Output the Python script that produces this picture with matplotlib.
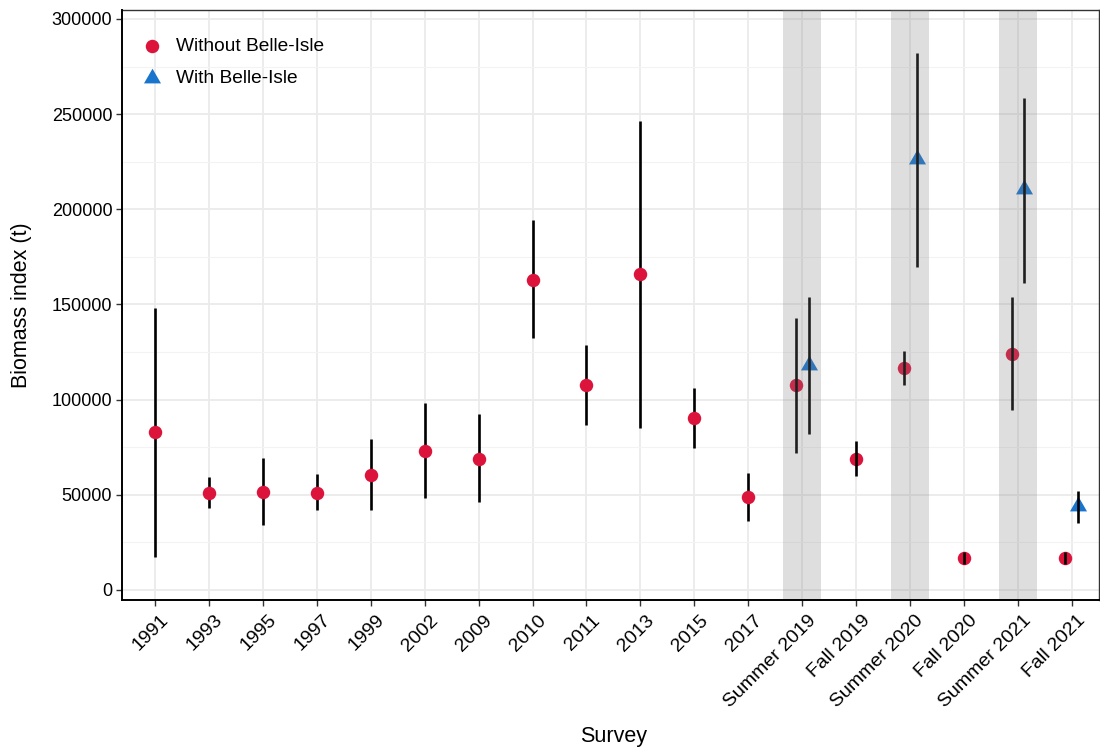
import matplotlib
matplotlib.use("Agg")
import matplotlib.pyplot as plt
import matplotlib.transforms as mtransforms
import numpy as np

plt.rcParams['font.family'] = ['Liberation Sans', 'DejaVu Sans']

surveys = ["1991", "1993", "1995", "1997", "1999", "2002", "2009", "2010", "2011",
           "2013", "2015", "2017", "Summer 2019", "Fall 2019", "Summer 2020",
           "Fall 2020", "Summer 2021", "Fall 2021"]

# Biomass index without Belle-Isle (t): estimate, lower, upper
without_est = [83000, 51000, 51500, 51000, 60400, 73000, 68800, 163000, 107700,
               166000, 90400, 48900, 107700, 68800, 116700, 16800, 124000, 16800]
without_lo = [17300, 43100, 34200, 42000, 42000, 48300, 46200, 132400, 86700,
              85100, 74600, 36300, 72000, 59900, 107700, 13800, 94600, 13800]
without_hi = [148000, 59400, 69400, 61000, 79300, 98000, 92500, 194400, 128700,
              246400, 106100, 61500, 143000, 78300, 125600, 19800, 154000, 19800]

# Biomass index with Belle-Isle (t), only for surveys where it exists
with_surveys = ["Summer 2019", "Summer 2020", "Summer 2021", "Fall 2021"]
with_est = [118200, 226500, 210700, 44100]
with_lo = [82000, 169700, 161300, 35200]
with_hi = [154000, 282200, 258500, 52000]

summer_surveys = ["Summer 2019", "Summer 2020", "Summer 2021"]

red = "#dc143c"
blue = "#1874cd"
dodge = 0.12

# equilateral triangle marker, centred on its centroid
tri = [(-1.0, -0.577), (1.0, -0.577), (0.0, 1.155), (-1.0, -0.577)]

fig = plt.figure(figsize=(11, 7.47), dpi=100)
ax = fig.add_axes([122 / 1100, 1 - 600 / 747, 1 - 122 / 1100 - 0.001, 590 / 747])

x_idx = {s: i for i, s in enumerate(surveys)}

# positions: dodge only where both estimates exist
wx = []
for s in surveys:
    i = x_idx[s]
    wx.append(i - dodge if s in with_surveys else i)
bx = [x_idx[s] + dodge for s in with_surveys]

late = x_idx["Summer 2019"]
for xi, est, lo, hi in zip(wx, without_est, without_lo, without_hi):
    z_line = 3 if xi < late - 0.5 else 5
    ax.plot([xi, xi], [lo, hi], color="black", lw=1.9, zorder=z_line, solid_capstyle="butt")
for xi, lo, hi in zip(bx, with_lo, with_hi):
    ax.plot([xi, xi], [lo, hi], color="black", lw=1.9, zorder=5, solid_capstyle="butt")

ax.scatter(wx, without_est, s=94, color=red, marker="o", zorder=4, lw=0,
           label="Without Belle-Isle")
ax.scatter(bx, with_est, s=200, color=blue, marker=tri, zorder=4, lw=0,
           label="With Belle-Isle")

# translucent summer bands laid over the marks
for s in summer_surveys:
    i = x_idx[s]
    ax.axvspan(i - 0.35, i + 0.35, color="#7f7f7f", alpha=0.25, zorder=8, lw=0)

ax.set_xlim(-0.61, len(surveys) - 0.5)
ax.set_ylim(-5300, 304700)
ax.set_xticks(range(len(surveys)))
ax.set_xticklabels(surveys, rotation=45, ha="right", va="top", rotation_mode="anchor",
                   fontsize=14)
ax.set_yticks(np.arange(0, 300001, 50000))
ax.set_yticklabels([str(v) for v in range(0, 300001, 50000)], fontsize=13)
ax.set_yticks(np.arange(25000, 300000, 50000), minor=True)

ax.grid(True, which="major", color="#ebebeb", lw=1.3, zorder=0)
ax.grid(True, which="minor", axis="y", color="#f3f3f3", lw=0.8, zorder=0)
ax.set_axisbelow(True)

ax.tick_params(axis="both", which="major", length=4, width=1, color="#333333",
               labelcolor="black", pad=3)
ax.tick_params(axis="both", which="minor", length=0)

# nudge the slanted survey labels a little to the right
shift = mtransforms.ScaledTranslation(5 / 100, -2 / 100, fig.dpi_scale_trans)
for tick in ax.xaxis.get_major_ticks():
    tick.label1.set_transform(tick.label1.get_transform() + shift)

for side in ["top", "right"]:
    ax.spines[side].set_color("#333333")
    ax.spines[side].set_linewidth(1)
for side in ["left", "bottom"]:
    ax.spines[side].set_color("black")
    ax.spines[side].set_linewidth(1.4)
    ax.spines[side].set_zorder(9)

ax.set_ylabel("Biomass index (t)", fontsize=15.5)
ax.yaxis.set_label_coords(-0.092, 0.5)
ax.set_xlabel("Survey", fontsize=15.5)
ax.xaxis.set_label_coords(0.503, -0.213)

leg = ax.legend(loc="upper left", bbox_to_anchor=(-0.0085, 0.985), frameon=False,
                fontsize=13.8, handletextpad=0.25, labelspacing=0.72, borderaxespad=0.6,
                scatterpoints=1)

fig.savefig("out.png", dpi=100)
